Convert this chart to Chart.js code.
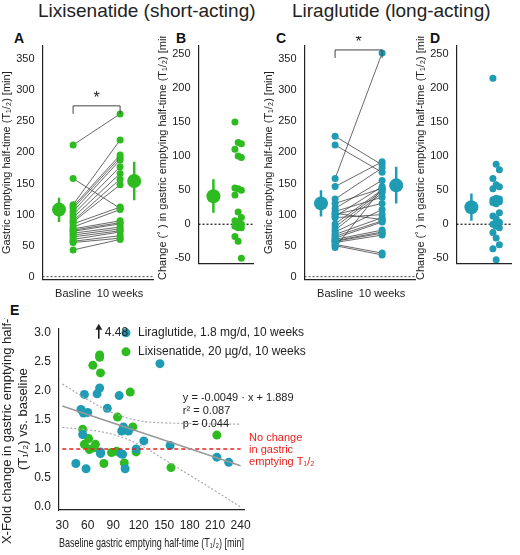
<!DOCTYPE html>
<html><head><meta charset="utf-8">
<script src="https://cdn.jsdelivr.net/npm/chart.js@4/dist/chart.umd.min.js"></script>
<style>
body{margin:0;width:520px;height:555px;position:relative;background:#fff;font-family:"Liberation Sans",Arial,sans-serif;overflow:hidden}
canvas{position:absolute}
.t{position:absolute;font-size:19px;color:#222;white-space:nowrap}
.l{position:absolute;font-size:14px;font-weight:bold;color:#111}
</style></head><body>
<div class="t" style="left:38px;top:0px">Lixisenatide (short-acting)</div>
<div class="t" style="left:292px;top:0px">Liraglutide (long-acting)</div>
<div class="l" style="left:14px;top:30px">A</div>
<div class="l" style="left:176px;top:30px">B</div>
<div class="l" style="left:276px;top:30px">C</div>
<div class="l" style="left:430px;top:30px">D</div>
<div class="l" style="left:10px;top:302px">E</div>
<canvas id="a" style="left:0;top:36px"></canvas>
<canvas id="b" style="left:156px;top:36px"></canvas>
<canvas id="c" style="left:262px;top:36px"></canvas>
<canvas id="d" style="left:414px;top:36px"></canvas>
<canvas id="e" style="left:0;top:318px"></canvas>
<script>
const GREEN='#2dbb1f', BLUE='#1f9bb3';
const categories=['Basline','10 weeks'];
// Panel A (lixisenatide) paired values
const lixiBase=[212,158,116,113,110,105,100,95,90,88,85,80,77,75,73,70,67,64,60,57,55,43];
const lixiPost=[262,110,220,196,192,188,177,166,157,148,112,108,90,87,85,80,77,74,72,66,62,60];
const lixiMean=[108,154], lixiCILo=[88,123], lixiCIHi=[127,185];
// Panel B
const lixiChange=[150,120,118,110,100,98,53,52,50,43,18,10,5,3,0,-3,-5,-5,-18,-25,-50];
const lixiChangeMean=41, lixiChangeCI=[17,66];
// Panel C (liraglutide)
const liraBase=[226,212,158,145,125,118,110,105,102,100,97,95,85,80,75,72,68,65,62,60,58,57,55,52,50,47];
const liraPost=[180,168,360,185,175,142,155,128,92,118,145,100,140,138,135,108,95,90,88,75,72,70,67,38,35,142];
const liraMean=[118,147], liraCILo=[97,118], liraCIHi=[139,177];
// Panel D
const liraChange=[214,88,80,67,58,55,52,38,37,36,35,33,32,30,17,12,8,3,0,-3,-5,-12,-20,-30,-36,-52];
const liraChangeMean=25, liraChangeCI=[5,45];
// Panel E
const eLiraX=[46,52,54,55,56,58,60,71,74,75,75,83,97,99,101,100,102,104,108,117,126,145,157,212,226];
const eLiraY=[0.75,1.68,1.25,1.62,1.94,0.66,1.63,1.95,2.05,0.95,0.92,1.7,1.92,0.92,0.91,1.31,1.38,0.66,1.31,1.0,1.14,2.47,1.06,0.86,0.77];
const eLixiX=[54,56,61,62,66,67,69,74,74,75,79,88,94,95,103,110,113,117,158,212];
const eLixiY=[1.34,1.08,1.18,0.99,2.44,1.02,1.08,2.62,2.58,2.31,0.75,0.94,0.96,1.55,0.76,1.98,1.38,0.95,0.68,1.24];
const ciX=[30,60,90,120,150,180,210,240];
const ciUpper=[2.12,1.85,1.62,1.49,1.45,1.44,1.43,1.43];
const ciLower=[1.37,1.33,1.25,1.08,0.82,0.55,0.28,0.0];
const slope=-0.0049, intercept=1.889;
const eXTicks=[30,60,90,120,150,180,210,240];
const eYTicks=[0,0.5,1,1.5,2,2.5,3];
const pTicks=[0,50,100,150,200,250,300,350];
const cTicks=[-50,0,50,100,150,200,250];

const F="'Liberation Sans', Arial, sans-serif";
Chart.defaults.font.family=F; Chart.defaults.color='#222';
Chart.defaults.animation=false;
const yTitleP='Gastric emptying half-time (T\u2081/\u2082) [min]';
const yTitleC='Change (\u02da ) in gastric emptying half-time (T\u2081/\u2082) [min]';

function bracket(label){return {id:'br',afterDraw(ch){
  const c=ch.ctx,x0=ch.scales.x.getPixelForValue(0),x1=ch.scales.x.getPixelForValue(1);
  const yb=ch.scales.y.getPixelForValue(label);
  c.save();c.strokeStyle='#444';c.lineWidth=1;c.beginPath();
  c.moveTo(x0,yb+8);c.lineTo(x0,yb);c.lineTo(x1,yb);c.lineTo(x1,yb+8);c.stroke();
  c.fillStyle='#222';c.font='16px '+F;c.textAlign='center';c.fillText('*',(x0+x1)/2,yb-3);
  const y0=ch.scales.y.getPixelForValue(0);c.setLineDash([2,2]);c.beginPath();
  c.moveTo(ch.chartArea.left,y0);c.lineTo(ch.chartArea.right,y0);c.stroke();c.restore();}};}
function zeroLine(){return {id:'z',beforeDatasetsDraw(ch){
  const c=ch.ctx,y0=ch.scales.y.getPixelForValue(0);c.save();c.strokeStyle='#111';c.lineWidth=1.2;
  c.setLineDash([2,2]);c.beginPath();c.moveTo(ch.chartArea.left,y0);c.lineTo(ch.chartArea.right,y0);c.stroke();c.restore();}};}

function axisOpts(){return {grid:{display:false,drawTicks:true,tickLength:5,tickColor:'#222'},border:{color:'#222',width:1.2}};}

function paired(id,base,post,mean,lo,hi,color,brY){
  const ds=[];
  for(let i=0;i<base.length;i++) ds.push({data:[{x:0,y:base[i]},{x:1,y:post[i]}],showLine:true,borderColor:'#444',borderWidth:0.8,pointRadius:3.5,pointBackgroundColor:color,pointBorderWidth:0});
  [[-0.3,0],[1.3,1]].forEach(([x,k])=>{
    ds.push({data:[{x,y:lo[k]},{x,y:hi[k]}],showLine:true,borderColor:color,borderWidth:2.5,pointRadius:0});
    ds.push({data:[{x,y:mean[k]}],pointRadius:7,pointBackgroundColor:color,pointBorderWidth:0});
  });
  new Chart(document.getElementById(id),{type:'scatter',data:{datasets:ds},plugins:[bracket(brY)],
   options:{responsive:false,devicePixelRatio:1,layout:{padding:{top:0,right:2}},plugins:{legend:{display:false},tooltip:{enabled:false}},
   scales:{x:{...axisOpts(),type:'linear',min:-0.65,max:1.7,afterBuildTicks:a=>{a.ticks=[{value:0},{value:1}];},
      ticks:{callback:v=>categories[v],font:{size:11},autoSkip:false,maxRotation:0}},
    y:{...axisOpts(),min:-5,max:372,afterBuildTicks:a=>{a.ticks=pTicks.map(v=>({value:v}));},ticks:{font:{size:11},autoSkip:false},
      title:{display:true,text:yTitleP,font:{size:11},padding:0}}}}});
}
function change(id,vals,mean,ci,color){
  const pts=vals.map((v,i)=>({x:1+((i%3)-1)*0.13,y:v}));
  new Chart(document.getElementById(id),{type:'scatter',plugins:[zeroLine()],data:{datasets:[
    {data:pts,pointRadius:3.5,pointBackgroundColor:color,pointBorderWidth:0},
    {data:[{x:0,y:ci[0]},{x:0,y:ci[1]}],showLine:true,borderColor:color,borderWidth:2.5,pointRadius:0},
    {data:[{x:0,y:mean}],pointRadius:7,pointBackgroundColor:color,pointBorderWidth:0}]},
   options:{responsive:false,devicePixelRatio:1,layout:{padding:{top:0,right:2}},plugins:{legend:{display:false},tooltip:{enabled:false}},
   scales:{x:{...axisOpts(),type:'linear',min:-0.6,max:1.6,afterBuildTicks:a=>{a.ticks=[{value:0},{value:1}];},ticks:{callback:()=>'',font:{size:11}}},
    y:{...axisOpts(),min:-58,max:262,afterBuildTicks:a=>{a.ticks=cTicks.map(v=>({value:v}));},ticks:{font:{size:11},autoSkip:false},
      title:{display:true,text:yTitleC,font:{size:11},padding:0}}}}});
}
function sz(id,w,h){const c=document.getElementById(id);c.width=w;c.height=h;c.style.width=w+'px';c.style.height=h+'px';}
sz('a',160,268);sz('b',104,252);sz('c',160,268);sz('d',104,252);sz('e',520,237);
paired('a',lixiBase,lixiPost,lixiMean,lixiCILo,lixiCIHi,GREEN,275);
change('b',lixiChange,lixiChangeMean,lixiChangeCI,GREEN);
paired('c',liraBase,liraPost,liraMean,liraCILo,liraCIHi,BLUE,365);
change('d',liraChange,liraChangeMean,liraChangeCI,BLUE);

const eText={id:'et',afterDraw(ch){
  const c=ch.ctx,xs=ch.scales.x,ys=ch.scales.y;c.save();
  c.font='12px '+F;c.fillStyle='#222';c.textBaseline='middle';
  const lx=xs.getPixelForValue(105),ly=ys.getPixelForValue(3.0);
  [[BLUE,'Liraglutide, 1.8 mg/d, 10 weeks',0],[GREEN,'Lixisenatide, 20 \u00b5g/d, 10 weeks',19]].forEach(([col,t,dy])=>{
    c.fillStyle=col;c.beginPath();c.arc(lx,ly+dy,4.5,0,7);c.fill();c.fillStyle='#222';c.fillText(t,lx+12,ly+dy);});
  const ax=xs.getPixelForValue(73),ay=ys.getPixelForValue(3.0);
  c.strokeStyle='#111';c.lineWidth=1.5;c.beginPath();c.moveTo(ax,ay+6);c.lineTo(ax,ay-5);c.stroke();
  c.beginPath();c.moveTo(ax-3.5,ay-3);c.lineTo(ax,ay-9);c.lineTo(ax+3.5,ay-3);c.fill();
  c.fillText('4.48',ax+6,ay);
  c.font='11px '+F;const tx=xs.getPixelForValue(172);
  ['y = -0.0049 \u00b7 x + 1.889','r\u00b2 = 0.087','p = 0.044'].forEach((t,i)=>c.fillText(t,tx,ys.getPixelForValue(1.88)+i*13));
  c.fillStyle='#e8201c';
  ['No change','in gastric','emptying T\u2081/\u2082'].forEach((t,i)=>c.fillText(t,xs.getPixelForValue(250),ys.getPixelForValue(1.19)+i*12));
  c.restore();}};
new Chart(document.getElementById('e'),{type:'scatter',plugins:[eText],data:{datasets:[
  {data:ciX.map((x,i)=>({x,y:ciUpper[i]})),showLine:true,borderColor:'#aaa',borderDash:[2,2],borderWidth:1.2,pointRadius:0,tension:0.4},
  {data:ciX.map((x,i)=>({x,y:ciLower[i]})),showLine:true,borderColor:'#aaa',borderDash:[2,2],borderWidth:1.2,pointRadius:0,tension:0.4},
  {data:[30,240].map(x=>({x,y:slope*x+intercept})),showLine:true,borderColor:'#999',borderWidth:1.5,pointRadius:0},
  {data:[{x:30,y:1},{x:240,y:1}],showLine:true,borderColor:'#e8201c',borderDash:[4,3],borderWidth:1.5,pointRadius:0},
  {data:eLiraX.map((x,i)=>({x,y:eLiraY[i]})),pointRadius:4.5,pointBackgroundColor:BLUE,pointBorderWidth:0},
  {data:eLixiX.map((x,i)=>({x,y:eLixiY[i]})),pointRadius:4.5,pointBackgroundColor:GREEN,pointBorderWidth:0}]},
 options:{responsive:false,devicePixelRatio:1,layout:{padding:{top:8,right:276}},plugins:{legend:{display:false},tooltip:{enabled:false}},
  scales:{x:{...axisOpts(),type:'linear',min:26,max:244,afterBuildTicks:a=>{a.ticks=eXTicks.map(v=>({value:v}));},ticks:{font:{size:12},autoSkip:false,maxRotation:0},
     title:{display:true,text:'Baseline gastric emptying half-time (T\u2081/\u2082) [min]',font:{size:13},padding:{top:0},align:'start'}},
   y:{...axisOpts(),min:-0.05,max:3.08,afterBuildTicks:a=>{a.ticks=eYTicks.map(v=>({value:v}));},ticks:{font:{size:12},callback:v=>v.toFixed(1),autoSkip:false},
     title:{display:true,text:['X-Fold change in gastric emptying half-time','(T\u2081/\u2082) vs. baseline'],font:{size:13},padding:0}}}}});
</script></body></html>
